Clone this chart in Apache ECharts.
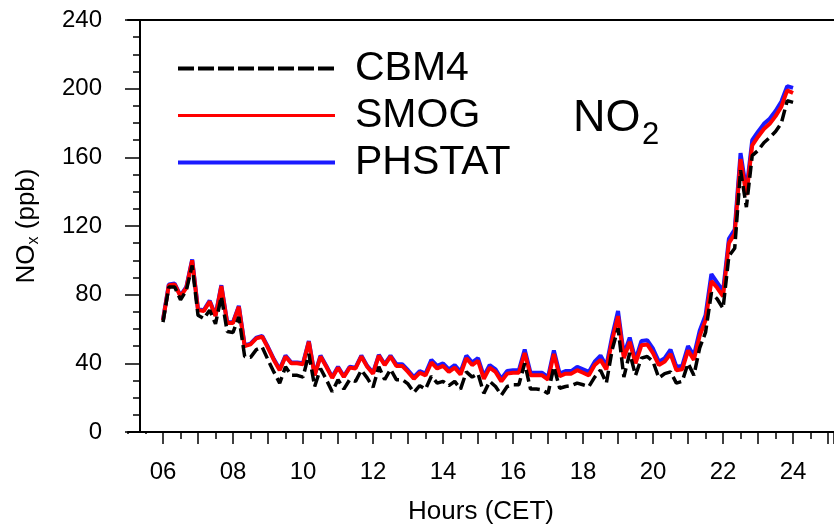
<!DOCTYPE html>
<html>
<head>
<meta charset="utf-8">
<script src="https://cdn.jsdelivr.net/npm/echarts@6/dist/echarts.min.js"></script>
<style>
  html, body { margin: 0; padding: 0; background: #fff; }
  #chart { width: 834px; height: 524px; }
</style>
</head>
<body>
<div id="chart"></div>
<script>
// 10-minute values from 06:00 to 24:00
const startHour = 6;
const stepHour = 1 / 6;

const cbm4 = [
  64, 84.5, 84.5, 77, 82.5, 97, 68, 66, 71, 63, 79, 58.5, 58, 67, 44, 43.5, 48, 49.5,
  42, 35, 28.5, 38, 33, 33, 32, 45.5, 26.5, 37, 30.5, 23.5, 30.5, 25, 30.5, 29.5, 36, 31.5,
  26, 38, 30.5, 36.5, 30.5, 30.5, 28, 23, 27, 25, 32.5, 28.5, 29.5, 27, 29.5, 25, 35, 32,
  34, 22.5, 29.5, 26.5, 21.5, 26.5, 27.5, 27.5, 40, 25, 25, 24.5, 22.5, 38, 25.5, 26.5, 27, 28.5,
  27.5, 26.5, 32, 36, 28.5, 48, 60.5, 32, 46, 33, 43, 44, 41, 31.5, 34, 35, 28.5, 29.5,
  40, 33, 49, 58, 81, 77.5, 72, 102.5, 107, 152.5, 131, 161, 164, 168.5, 171.5, 175, 180, 193,
  192
];

const smog = [
  65, 85.5, 86, 79, 84, 100, 71, 70.5, 76, 67.5, 85, 63.5, 63.5, 73, 50, 51, 54.5, 55.5,
  49, 42, 36, 44, 40, 40, 39.5, 52.5, 33, 44, 38, 31.5, 37.5, 32, 37.5, 37, 44, 38,
  34, 44.5, 39, 44, 38.5, 38.5, 35, 31, 34.5, 33, 40.5, 37, 38.5, 35, 37.5, 33.5, 43, 39,
  41.5, 31, 37.5, 35, 29.5, 34, 34.5, 34.5, 46, 33, 33, 33, 30.5, 45.5, 32.5, 34, 34, 36,
  34.5, 33, 39, 42, 36.5, 53.5, 67.5, 43, 52.5, 40, 50.5, 51, 46, 39, 41, 45.5, 36, 36.5,
  47.5, 42, 56, 65, 88, 84, 79, 110, 115.5, 159, 138, 167, 172, 176.5, 179.5, 184, 189.5, 199,
  197.5
];

const phstat = [
  65.5, 86, 86.5, 79.5, 84.5, 100.5, 71.5, 71, 76.5, 68, 85.5, 64, 64, 73.5, 50.5, 51.5, 55, 56,
  49.5, 42.5, 36.5, 44.5, 40.5, 40.5, 40, 53, 33.5, 44.5, 38.5, 32, 38, 32.5, 38, 37.5, 44.5, 38.5,
  34.5, 45, 39.5, 44.5, 39.5, 39.5, 36, 32, 35.5, 34, 42, 38.5, 40, 36.5, 39, 35, 44.5, 40.5,
  43, 32.5, 39, 36.5, 31, 35.5, 36, 36, 48, 34.5, 34.5, 34.5, 32, 47.5, 34, 35.5, 35.5, 38,
  36.5, 35, 41, 44.5, 38.5, 56, 70.5, 45, 55, 42, 53, 53.5, 48.5, 41, 43, 48, 38, 38.5,
  50, 44.5, 59, 68, 92, 87, 82, 112.5, 118, 162.5, 140.5, 170, 175, 179.5, 182.5, 187, 192.5, 201.5,
  200.5
];

function toPairs(values) {
  return values.map((v, i) => [startHour + i * stepHour, v]);
}

const fontFamily = '"Liberation Sans", Arial, sans-serif';

const myChart = echarts.init(document.getElementById('chart'), null, {renderer: 'canvas'});

const option = {
  animation: false,
  backgroundColor: '#fff',
  grid: {
    left: 128,
    right: 0,
    top: 20,
    bottom: 92,
    outerBoundsMode: 'none',
  },
  legend: {
    orient: 'vertical',
    left: 176,
    top: 45,
    padding: 0,
    itemWidth: 157,
    itemHeight: 14,
    itemGap: 0,
    itemStyle: {opacity: 0},
    data: [
      {name: 'CBM4', lineStyle: {width: 4, type: [16, 4]}},
      {name: 'SMOG', lineStyle: {width: 3}},
      {name: 'PHSTAT', lineStyle: {width: 4}},
    ],
    textStyle: {
      fontFamily: fontFamily,
      fontSize: 41,
      lineHeight: 47,
      color: '#000',
      padding: [0, 0, 0, 15],
    },
  },
  xAxis: [{
    type: 'value',
    min: 5,
    max: 25.17,
    interval: 1,
    name: 'Hours (CET)',
    nameLocation: 'middle',
    nameGap: 67,
    nameTextStyle: {
      fontFamily: fontFamily,
      fontSize: 26,
      color: '#000',
    },
    axisLine: {
      show: true,
      lineStyle: {color: '#000', width: 2},
    },
    axisTick: {
      show: true,
      inside: false,
      length: 12,
      lineStyle: {color: '#000', width: 1.5},
    },
    minorTick: {
      show: true,
      splitNumber: 2,
      length: 7,
      lineStyle: {color: '#000', width: 1.5},
    },
    axisLabel: {
      margin: 28,
      fontFamily: fontFamily,
      fontSize: 24,
      color: '#000',
      formatter: function (v) {
        if (Math.abs(v - Math.round(v)) > 1e-6) return '';
        const h = Math.round(v);
        if (h % 2 !== 0) return '';
        return (h < 10 ? '0' : '') + h;
      },
    },
    splitLine: {show: false},
  }, {
    type: 'value',
    position: 'top',
    min: 5,
    max: 25.17,
    axisLine: {show: true, lineStyle: {color: '#000', width: 2}},
    axisTick: {show: false},
    axisLabel: {show: false},
    splitLine: {show: false},
  }],
  yAxis: {
    type: 'value',
    min: 0,
    max: 240,
    interval: 40,
    offset: -12,
    name: '{a|NO}{b|x}{a| (ppb)}',
    nameLocation: 'middle',
    nameGap: 98,
    nameRotate: 90,
    nameTextStyle: {
      fontFamily: fontFamily,
      color: '#000',
      rich: {
        a: {fontFamily: fontFamily, fontSize: 26, lineHeight: 30, color: '#000'},
        b: {fontFamily: fontFamily, fontSize: 16, lineHeight: 12, verticalAlign: 'bottom', color: '#000'},
      },
    },
    axisLine: {
      show: true,
      lineStyle: {color: '#000', width: 2},
    },
    axisTick: {
      show: true,
      inside: false,
      length: 15,
      lineStyle: {color: '#000', width: 1.5},
    },
    minorTick: {
      show: true,
      splitNumber: 4,
      length: 7,
      lineStyle: {color: '#000', width: 1.5},
    },
    axisLabel: {
      margin: 38,
      fontFamily: fontFamily,
      fontSize: 24,
      color: '#000',
    },
    splitLine: {show: false},
  },
  graphic: [{
    // hides the ticks the axis puts before 06:00, left of the y axis
    type: 'rect',
    z: 100,
    shape: {x: 124, y: 434, width: 28, height: 14},
    style: {fill: '#fff'},
  }, {
    type: 'text',
    left: 573,
    top: 96,
    style: {
      text: 'NO',
      font: '45px ' + fontFamily,
      fill: '#000',
    },
  }, {
    type: 'text',
    left: 642,
    top: 120,
    style: {
      text: '2',
      font: '31px ' + fontFamily,
      fill: '#000',
    },
  }],
  series: [{
    name: 'PHSTAT',
    type: 'line',
    symbol: 'none',
    z: 2,
    lineStyle: {color: '#1a1aff', width: 4},
    itemStyle: {color: '#1a1aff'},
    data: toPairs(phstat),
  }, {
    name: 'SMOG',
    type: 'line',
    symbol: 'none',
    z: 3,
    lineStyle: {color: '#ff0000', width: 4},
    itemStyle: {color: '#ff0000'},
    data: toPairs(smog),
  }, {
    name: 'CBM4',
    type: 'line',
    symbol: 'none',
    z: 4,
    lineStyle: {color: '#000', width: 3.5, type: [12, 5]},
    itemStyle: {color: '#000'},
    data: toPairs(cbm4),
  }],
};

myChart.setOption(option);
</script>
</body>
</html>
